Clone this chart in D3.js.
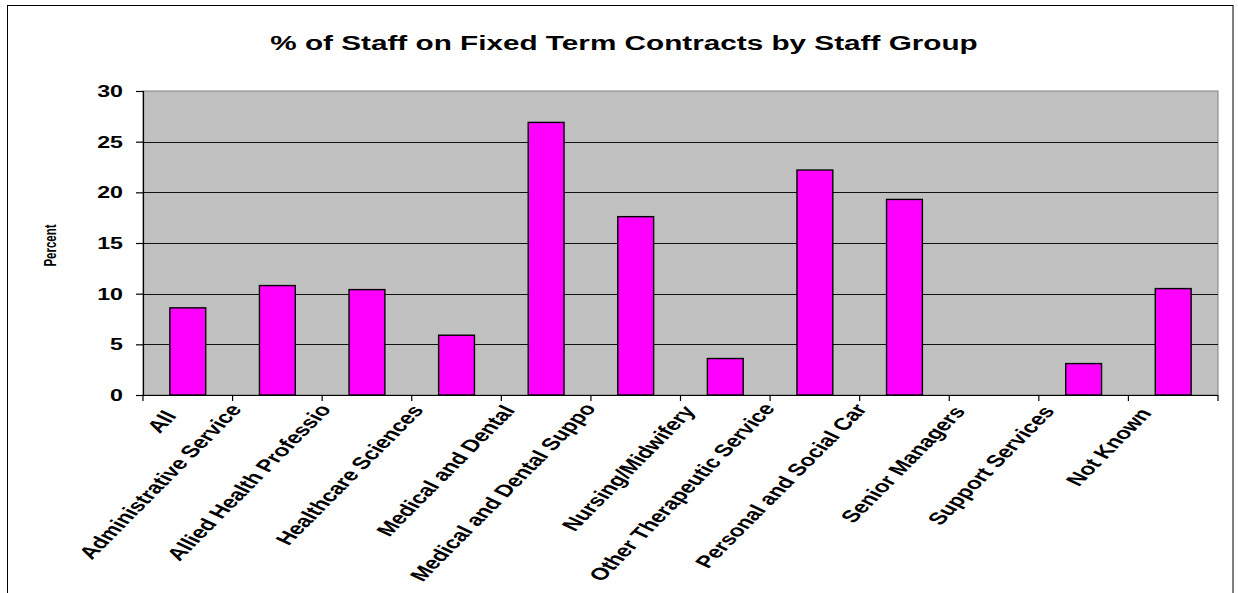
<!DOCTYPE html>
<html>
<head>
<meta charset="utf-8">
<script src="https://cdn.jsdelivr.net/npm/d3@7"></script>
<style>
  html, body { margin: 0; padding: 0; background: #fff; }
  svg { display: block; }
  text { font-family: "Liberation Sans", Arial, sans-serif; font-weight: bold; fill: #000; }
</style>
</head>
<body>
<svg id="chart" width="1238" height="593"></svg>
<script>
// Staff groups (full names) and the text shown under each bar
const categories = [
  "All", "Administrative Services", "Allied Health Professionals", "Healthcare Sciences",
  "Medical and Dental", "Medical and Dental Support", "Nursing/Midwifery",
  "Other Therapeutic Services", "Personal and Social Care", "Senior Managers",
  "Support Services", "Not Known"
];
const tickLabels = [
  "All", "Administrative Service", "Allied Health Professio", "Healthcare Sciences",
  "Medical and Dental", "Medical and Dental Suppo", "Nursing/Midwifery",
  "Other Therapeutic Service", "Personal and Social Car", "Senior Managers",
  "Support Services", "Not Known"
];
// Percent of staff on fixed term contracts
const values = [8.6, 10.8, 10.4, 5.9, 26.9, 17.6, 3.6, 22.2, 19.3, 0, 3.1, 10.5];
const yTicks = [0, 5, 10, 15, 20, 25, 30];

const title = "% of Staff on Fixed Term Contracts by Staff Group";
const yTitle = "Percent";

// Text in this chart is drawn wide: every glyph is stretched horizontally.
const SX = 1.45;
const LABEL_ANGLE = Math.atan(SX) * 180 / Math.PI; // appears as 45° once stretched

const svg = d3.select("#chart");
const plot = { left: 143, right: 1218, top: 91, bottom: 395 };

const x = d3.scaleBand()
  .domain(categories)
  .range([plot.left, plot.right])
  .paddingInner(0.6)
  .paddingOuter(0.3);

const y = d3.scaleLinear()
  .domain([0, 30])
  .range([plot.bottom, plot.top]);

// outer chart frame
svg.append("rect")
  .attr("x", 7.5).attr("y", 5.5)
  .attr("width", 1225.5).attr("height", 620)
  .attr("fill", "none").attr("stroke", "#000").attr("stroke-width", 1);

// plot background
svg.append("rect")
  .attr("x", plot.left).attr("y", plot.top)
  .attr("width", plot.right - plot.left).attr("height", plot.bottom - plot.top)
  .attr("fill", "#c0c0c0")
  .attr("stroke", "#808080").attr("stroke-width", 1);

// horizontal gridlines
svg.append("g")
  .selectAll("line")
  .data(yTicks.filter(d => d > 0 && d < 30))
  .join("line")
  .attr("x1", plot.left).attr("x2", plot.right)
  .attr("y1", d => Math.round(y(d)) + 0.5).attr("y2", d => Math.round(y(d)) + 0.5)
  .attr("stroke", "#111").attr("stroke-width", 1.2);

// bars
svg.append("g")
  .selectAll("rect")
  .data(values)
  .join("rect")
  .attr("x", (d, i) => x(categories[i]))
  .attr("width", x.bandwidth())
  .attr("y", d => y(d))
  .attr("height", d => y(0) - y(d))
  .attr("fill", "#ff00ff")
  .attr("stroke", "#000")
  .attr("stroke-width", 1.4)
  .attr("display", d => d > 0 ? null : "none");

// y axis
const yAxis = svg.append("g")
  .attr("transform", `translate(${plot.left},0)`)
  .call(d3.axisLeft(y).tickValues(yTicks).tickSize(7).tickFormat(""));
yAxis.select(".domain").attr("stroke", "#000").attr("stroke-width", 1.2);
yAxis.selectAll(".tick line").attr("stroke", "#000").attr("stroke-width", 1.2);

// x axis: ticks on the category boundaries
const step = x.step();
const x0 = x(categories[0]) - step * x.paddingInner() / 2;
const boundaries = d3.range(categories.length + 1).map(i => x0 + i * step);
const xAxis = svg.append("g");
xAxis.append("line")
  .attr("x1", plot.left).attr("x2", plot.right)
  .attr("y1", plot.bottom + 0.5).attr("y2", plot.bottom + 0.5)
  .attr("stroke", "#000").attr("stroke-width", 1.2);
xAxis.selectAll("line.tick")
  .data(boundaries)
  .join("line")
  .attr("class", "tick")
  .attr("x1", d => d).attr("x2", d => d)
  .attr("y1", plot.bottom).attr("y2", plot.bottom + 6)
  .attr("stroke", "#000").attr("stroke-width", 1.2);

// y tick labels
svg.append("g")
  .selectAll("text")
  .data(yTicks)
  .join("text")
  .attr("text-anchor", "end")
  .attr("font-size", 16)
  .attr("transform", d => `translate(123,${y(d) + 6}) scale(${SX},1)`)
  .text(d => d);

// category labels, slanted
const labelG = svg.append("g");
const angleRad = LABEL_ANGLE * Math.PI / 180;
const lenFactor = Math.hypot(SX * Math.cos(angleRad), Math.sin(angleRad));
labelG.selectAll("text")
  .data(tickLabels)
  .join("text")
  .attr("text-anchor", "end")
  .attr("font-size", 17)
  .text(d => d)
  .each(function(d, i) {
    const len = this.getComputedTextLength() * lenFactor;
    const cx = x(categories[i]) + x.bandwidth() / 2;
    const ex = cx - 7 - 0.13 * len;
    const ey = 417 - 0.035 * len;
    d3.select(this).attr("transform", `translate(${ex},${ey}) scale(${SX},1) rotate(${-LABEL_ANGLE})`);
  });

// chart title
svg.append("text")
  .attr("text-anchor", "middle")
  .attr("font-size", 20.5)
  .attr("transform", `translate(624,50) scale(${SX},1)`)
  .text(title);

// y axis title
svg.append("text")
  .attr("text-anchor", "middle")
  .attr("font-size", 11.5)
  .attr("transform", `translate(56,245.5) scale(${SX},1) rotate(-90)`)
  .text(yTitle);
</script>
</body>
</html>
